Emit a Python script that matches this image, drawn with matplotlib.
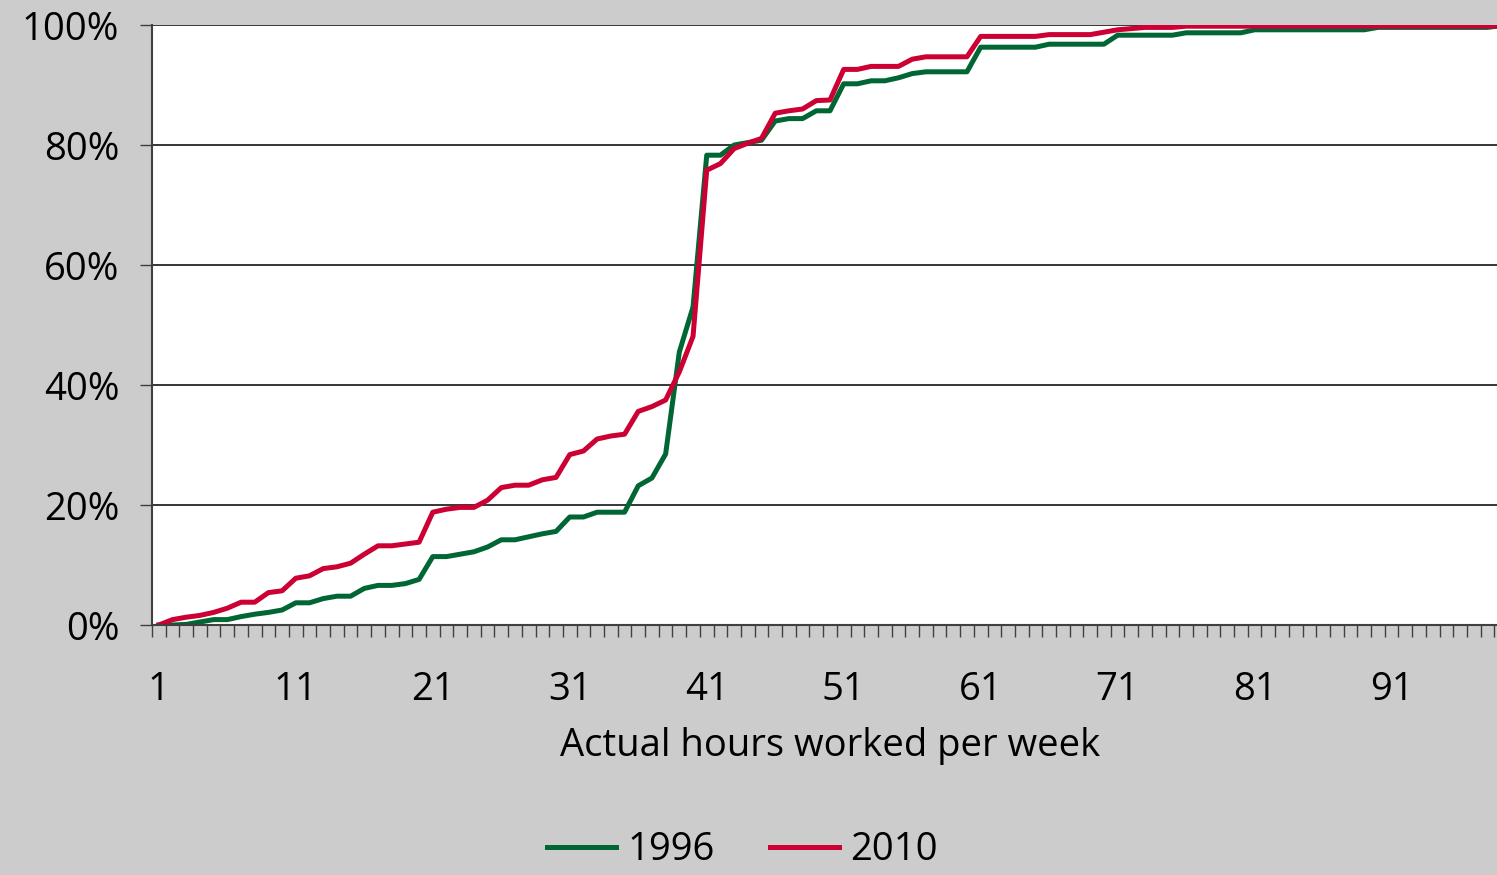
import matplotlib
matplotlib.use("Agg")
import matplotlib.pyplot as plt
import numpy as np

# hours worked per week, 1..99
hours = np.arange(1, 100)

# cumulative share of workers (%)
share_1996 = [
    0.0, 0.0, 0.1, 0.5, 0.9, 0.9, 1.4, 1.8, 2.1, 2.5,
    3.7, 3.7, 4.4, 4.8, 4.8, 6.1, 6.6, 6.6, 6.9, 7.6,
    11.4, 11.4, 11.8, 12.2, 13.0, 14.2, 14.2, 14.7, 15.2, 15.6,
    18.0, 18.0, 18.8, 18.8, 18.8, 23.2, 24.5, 28.5, 45.5, 53.0,
    78.3, 78.3, 80.0, 80.4, 80.8, 84.0, 84.4, 84.4, 85.7, 85.7,
    90.2, 90.2, 90.7, 90.7, 91.2, 91.9, 92.2, 92.2, 92.2, 92.2,
    96.3, 96.3, 96.3, 96.3, 96.3, 96.8, 96.8, 96.8, 96.8, 96.8,
    98.3, 98.3, 98.3, 98.3, 98.3, 98.7, 98.7, 98.7, 98.7, 98.7,
    99.2, 99.2, 99.2, 99.2, 99.2, 99.2, 99.2, 99.2, 99.2, 99.6,
    99.6, 99.6, 99.6, 99.6, 99.6, 99.6, 99.6, 99.6, 99.9,
]
share_2010 = [
    0.0, 0.9, 1.3, 1.6, 2.1, 2.8, 3.8, 3.8, 5.4, 5.7,
    7.8, 8.2, 9.4, 9.7, 10.3, 11.8, 13.2, 13.2, 13.5, 13.8,
    18.8, 19.3, 19.6, 19.6, 20.8, 22.9, 23.3, 23.3, 24.2, 24.6,
    28.4, 29.0, 31.0, 31.5, 31.8, 35.6, 36.4, 37.5, 42.2, 48.1,
    75.8, 76.9, 79.4, 80.3, 81.1, 85.3, 85.7, 86.0, 87.4, 87.5,
    92.6, 92.6, 93.1, 93.1, 93.1, 94.3, 94.7, 94.7, 94.7, 94.7,
    98.1, 98.1, 98.1, 98.1, 98.1, 98.4, 98.4, 98.4, 98.4, 98.8,
    99.2, 99.4, 99.6, 99.6, 99.6, 99.8, 99.8, 99.8, 99.8, 99.8,
    99.8, 99.8, 99.8, 99.8, 99.8, 99.8, 99.8, 99.8, 99.8, 99.8,
    99.8, 99.8, 99.8, 99.8, 99.8, 99.8, 99.8, 99.8, 99.8,
]
years = ["1996", "2010"]
colors = ["#006633", "#cc0033"]

plt.rcParams["font.family"] = ["Open Sans", "DejaVu Sans"]
FS = 27.5

fig = plt.figure(figsize=(14.97, 8.75), dpi=100, facecolor="#cccccc")
ax = fig.add_axes([152 / 1497, 250 / 875, 1356 / 1497, 600 / 875])
ax.set_facecolor("white")

for y, c, lab in zip([share_1996, share_2010], colors, years):
    ax.plot(hours, y, color=c, lw=3.6, label=lab, solid_joinstyle="round")

ax.set_xlim(0.5, 99.5)
ax.set_ylim(0, 100)

# y axis
ax.set_yticks(range(0, 101, 20))
ax.set_yticklabels([f"{v}%" for v in range(0, 101, 20)])
ax.grid(axis="y", color="black", lw=1.1)
ax.set_axisbelow(True)
ax.tick_params(axis="y", direction="out", length=8.6, width=1.0,
               color="#404040", pad=15, labelsize=FS)

# x axis: ticks between categories, labels every 10 hours
ax.set_xticks(hours[::10])
ax.set_xticks(np.arange(0.5, 100, 1), minor=True)
ax.tick_params(axis="x", which="major", length=0, pad=33, labelsize=FS)
ax.tick_params(axis="x", which="minor", direction="out", length=8.6,
               width=1.0, color="#404040")
ax.set_xlabel("Actual hours worked per week", fontsize=FS, labelpad=13)

for s in ["top", "right"]:
    ax.spines[s].set_visible(False)
for s in ["left", "bottom"]:
    ax.spines[s].set_color("#404040")
    ax.spines[s].set_linewidth(1.5)

# legend sits at the very bottom, as in the original
fig.legend(loc="center", bbox_to_anchor=(0.496, 0.028), ncol=2,
           frameon=False, fontsize=FS, handlelength=1.8,
           handletextpad=0.3, columnspacing=1.45)

fig.savefig("out.png", dpi=100, facecolor=fig.get_facecolor())
